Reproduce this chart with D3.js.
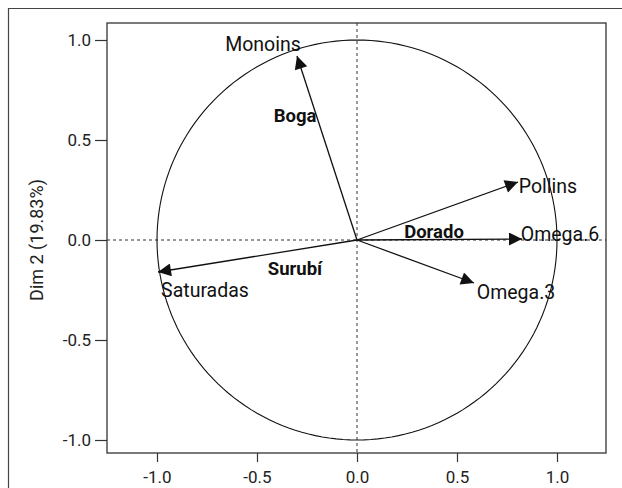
<!DOCTYPE html>
<html>
<head>
<meta charset="utf-8">
<script src="https://cdn.jsdelivr.net/npm/d3@7"></script>
<style>
  html, body { margin: 0; padding: 0; background: #fff; }
  svg { display: block; }
  text { font-family: Roboto, "Noto Sans", sans-serif; }
</style>
</head>
<body>
<div id="chart"></div>
<script>
// ---- data ----
const variables = ["Monoins", "Pollins", "Omega.6", "Omega.3", "Saturadas"];
const dim1 = [-0.30, 0.805, 0.825, 0.585, -0.995];
const dim2 = [0.92, 0.29, 0.005, -0.215, -0.16];
const varLabelX = [-0.47, 0.955, 1.015, 0.795, -0.76];
const varLabelY = [0.977, 0.27, 0.03, -0.26, -0.25];

const groups = ["Boga", "Dorado", "Surubí"];
const groupX = [-0.31, 0.385, -0.31];
const groupY = [0.62, 0.04, -0.145];

const xTicks = [-1.0, -0.5, 0.0, 0.5, 1.0];
const yTicks = [-1.0, -0.5, 0.0, 0.5, 1.0];
const tickLabels = ["-1.0", "-0.5", "0.0", "0.5", "1.0"];
const yTitle = "Dim 2 (19.83%)";

// ---- layout ----
const W = 622, H = 488;
const panel = { left: 107, right: 606, top: 23, bottom: 453 };

const svg = d3.select("#chart").append("svg")
  .attr("width", W).attr("height", H);

// outer frame (cropped figure border)
svg.append("path")
  .attr("d", `M8.5,${H + 2} V8.5 H${W + 2}`)
  .attr("fill", "none").attr("stroke", "#444").attr("stroke-width", 1.2);

const x = d3.scaleLinear().domain([-1.25, 1.245]).range([panel.left, panel.right]);
const y = d3.scaleLinear().domain([-1.065, 1.085]).range([panel.bottom, panel.top]);

const defs = svg.append("defs");
defs.append("clipPath").attr("id", "clip")
  .append("rect")
  .attr("x", panel.left).attr("y", panel.top)
  .attr("width", panel.right - panel.left).attr("height", panel.bottom - panel.top);

defs.append("marker")
  .attr("id", "arrow")
  .attr("viewBox", "0 0 10 10")
  .attr("refX", 10).attr("refY", 5)
  .attr("markerUnits", "userSpaceOnUse")
  .attr("markerWidth", 16).attr("markerHeight", 13)
  .attr("orient", "auto")
  .append("path")
  .attr("d", "M0,0 L10,5 L0,10 Z")
  .attr("fill", "#111");

const g = svg.append("g").attr("clip-path", "url(#clip)");

// reference lines
g.append("line")
  .attr("x1", x(0)).attr("x2", x(0))
  .attr("y1", panel.top).attr("y2", panel.bottom)
  .attr("stroke", "#333").attr("stroke-width", 1).attr("stroke-dasharray", "3,3");
g.append("line")
  .attr("x1", panel.left).attr("x2", panel.right)
  .attr("y1", y(0)).attr("y2", y(0))
  .attr("stroke", "#333").attr("stroke-width", 1).attr("stroke-dasharray", "3,3");

// correlation circle
const circ = d3.range(0, 361, 2).map(a => [Math.cos(a * Math.PI / 180), Math.sin(a * Math.PI / 180)]);
g.append("path")
  .datum(circ)
  .attr("d", d3.line().x(d => x(d[0])).y(d => y(d[1])))
  .attr("fill", "none").attr("stroke", "#111").attr("stroke-width", 1.1);

// arrows
g.selectAll("line.arrow")
  .data(variables)
  .join("line")
  .attr("class", "arrow")
  .attr("x1", x(0)).attr("y1", y(0))
  .attr("x2", (d, i) => x(dim1[i])).attr("y2", (d, i) => y(dim2[i]))
  .attr("stroke", "#111").attr("stroke-width", 1.3)
  .attr("marker-end", "url(#arrow)");

// variable labels
g.selectAll("text.var")
  .data(variables)
  .join("text")
  .attr("class", "var")
  .attr("x", (d, i) => x(varLabelX[i]))
  .attr("y", (d, i) => y(varLabelY[i]))
  .attr("text-anchor", "middle")
  .attr("dominant-baseline", "central")
  .attr("font-size", 19.5)
  .attr("fill", "#111")
  .text(d => d);

// group labels
g.selectAll("text.grp")
  .data(groups)
  .join("text")
  .attr("class", "grp")
  .attr("x", (d, i) => x(groupX[i]))
  .attr("y", (d, i) => y(groupY[i]))
  .attr("text-anchor", "middle")
  .attr("dominant-baseline", "central")
  .attr("font-size", 18.5)
  .attr("font-weight", "bold")
  .attr("fill", "#111")
  .text(d => d);

// panel border
svg.append("rect")
  .attr("x", panel.left).attr("y", panel.top)
  .attr("width", panel.right - panel.left).attr("height", panel.bottom - panel.top)
  .attr("fill", "none").attr("stroke", "#333").attr("stroke-width", 1.3);

// axes
const xAxis = svg.append("g")
  .attr("transform", `translate(0,${panel.bottom})`)
  .call(d3.axisBottom(x).tickValues(xTicks).tickFormat((d, i) => tickLabels[i]).tickSize(9).tickPadding(9));
const yAxis = svg.append("g")
  .attr("transform", `translate(${panel.left},0)`)
  .call(d3.axisLeft(y).tickValues(yTicks).tickFormat((d, i) => tickLabels[i]).tickSize(12).tickPadding(4));
[xAxis, yAxis].forEach(a => {
  a.select(".domain").remove();
  a.selectAll(".tick line").attr("stroke", "#333").attr("stroke-width", 1.2);
  a.selectAll(".tick text").attr("font-size", 17).attr("fill", "#222")
    .attr("font-family", "Roboto, sans-serif");
});

// y title
svg.append("text")
  .attr("transform", `translate(${36},${y(0)}) rotate(-90)`)
  .attr("text-anchor", "middle")
  .attr("dominant-baseline", "central")
  .attr("font-size", 18)
  .attr("fill", "#222")
  .text(yTitle);
</script>
</body>
</html>
